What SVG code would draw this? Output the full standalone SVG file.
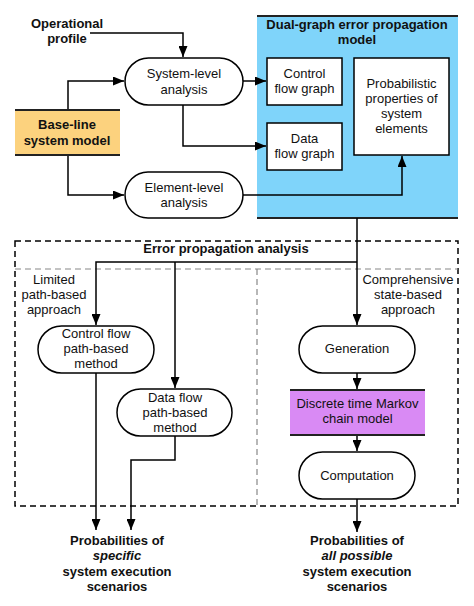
<svg xmlns="http://www.w3.org/2000/svg" width="474" height="606" viewBox="0 0 474 606">
<defs>
<marker id="ah" viewBox="0 0 11 9" refX="11" refY="4.5" markerWidth="11" markerHeight="9" markerUnits="userSpaceOnUse" orient="auto">
<path d="M0,0 L11,4.5 L0,9 z" fill="#000"/>
</marker>
<style>
text{font-family:"Liberation Sans",Arial,sans-serif;font-size:13px;fill:#111;text-anchor:middle}
.b{font-weight:bold}
.i{font-style:italic}
.pill{fill:#fff;stroke:#000;stroke-width:1.5}
.box{fill:#fff;stroke:#000;stroke-width:1.5}
.edge{fill:none;stroke:#000;stroke-width:1.5}
.dash{fill:none;stroke:#000;stroke-width:1.5;stroke-dasharray:6,4}
.dash2{fill:none;stroke:#888;stroke-width:1.2;stroke-dasharray:6,4}
.bar{stroke:#222;stroke-width:1.8}
</style>
</defs>
<rect width="474" height="606" fill="#fff"/>

<g id="dual-graph">
<rect x="257" y="16" width="201" height="202" fill="#7fd4fa"/>
<line class="bar" x1="257" y1="16" x2="458" y2="16"/>
<line class="bar" x1="257" y1="218" x2="458" y2="218"/>
<text class="b" x="357" y="29">Dual-graph error propagation</text>
<text class="b" x="357" y="44">model</text>
</g>

<g id="analysis-frame">
<rect class="dash" x="15" y="241" width="443" height="265"/>
<line class="dash2" x1="15" y1="269" x2="458" y2="269"/>
<line class="dash2" x1="257" y1="269" x2="257" y2="506"/>
<text class="b" x="226" y="253">Error propagation analysis</text>
<text x="54" y="284">Limited</text>
<text x="54" y="299">path-based</text>
<text x="54" y="314">approach</text>
<text x="408" y="284">Comprehensive</text>
<text x="408" y="299">state-based</text>
<text x="408" y="314">approach</text>
</g>

<g id="connectors">
<path class="edge" d="M90,33 H183 V57" marker-end="url(#ah)"/>
<path class="edge" d="M68,110 V81 H124" marker-end="url(#ah)"/>
<path class="edge" d="M68,155 V195 H124" marker-end="url(#ah)"/>
<path class="edge" d="M243,81 H266" marker-end="url(#ah)"/>
<path class="edge" d="M183,105 V146 H266" marker-end="url(#ah)"/>
<path class="edge" d="M243,195 H402 V156" marker-end="url(#ah)"/>
<path class="edge" d="M357,218 V325" marker-end="url(#ah)"/>
<path class="edge" d="M357,262 H96 V325" marker-end="url(#ah)"/>
<path class="edge" d="M175,262 V388" marker-end="url(#ah)"/>
<path class="edge" d="M357,373 V389" marker-end="url(#ah)"/>
<path class="edge" d="M357,435 V451" marker-end="url(#ah)"/>
<path class="edge" d="M357,499 V532" marker-end="url(#ah)"/>
<path class="edge" d="M96,373 V530" marker-end="url(#ah)"/>
<path class="edge" d="M175,436 V460 H131 V530" marker-end="url(#ah)"/>
</g>

<g id="operational-profile">
<text class="b" x="67" y="28">Operational</text>
<text class="b" x="67" y="43">profile</text>
</g>

<g id="baseline-model">
<rect x="15" y="110" width="105" height="45" fill="#fcd27e"/>
<line class="bar" x1="15" y1="110" x2="120" y2="110"/>
<line class="bar" x1="15" y1="155" x2="120" y2="155"/>
<text class="b" x="67" y="129">Base-line</text>
<text class="b" x="67" y="145">system model</text>
</g>

<g id="system-level">
<rect class="pill" x="125" y="58" width="118" height="47" rx="23.5"/>
<text x="184" y="78">System-level</text>
<text x="184" y="94">analysis</text>
</g>

<g id="element-level">
<rect class="pill" x="125" y="172" width="118" height="46" rx="23"/>
<text x="184" y="192">Element-level</text>
<text x="184" y="207">analysis</text>
</g>

<g id="control-flow-graph">
<rect class="box" x="267" y="58" width="75" height="47"/>
<text x="304.5" y="78">Control</text>
<text x="304.5" y="93">flow graph</text>
</g>

<g id="data-flow-graph">
<rect class="box" x="267" y="123" width="75" height="47"/>
<text x="304.5" y="143">Data</text>
<text x="304.5" y="158">flow graph</text>
</g>

<g id="probabilistic-properties">
<rect class="box" x="354" y="58" width="95" height="97"/>
<text x="401.5" y="88">Probabilistic</text>
<text x="401.5" y="103">properties of</text>
<text x="401.5" y="118">system</text>
<text x="401.5" y="133">elements</text>
</g>

<g id="control-flow-method">
<rect class="pill" x="38" y="326" width="116" height="47" rx="23.5"/>
<text x="96" y="338">Control flow</text>
<text x="96" y="353">path-based</text>
<text x="96" y="368">method</text>
</g>

<g id="data-flow-method">
<rect class="pill" x="117" y="389" width="115" height="47" rx="23.5"/>
<text x="175" y="402">Data flow</text>
<text x="175" y="417">path-based</text>
<text x="175" y="432">method</text>
</g>

<g id="generation">
<rect class="pill" x="299" y="326" width="116" height="47" rx="23.5"/>
<text x="357" y="353">Generation</text>
</g>

<g id="markov-chain">
<rect x="290" y="390" width="135" height="45" fill="#d98af4"/>
<line class="bar" x1="290" y1="390" x2="425" y2="390"/>
<line class="bar" x1="290" y1="435" x2="425" y2="435"/>
<text x="357.5" y="408">Discrete time Markov</text>
<text x="357.5" y="423">chain model</text>
</g>

<g id="computation">
<rect class="pill" x="299" y="452" width="116" height="47" rx="23.5"/>
<text x="357" y="480">Computation</text>
</g>

<g id="specific-result">
<text class="b" x="117" y="545">Probabilities of</text>
<text class="b i" x="117" y="560">specific</text>
<text class="b" x="117" y="576">system execution</text>
<text class="b" x="117" y="591">scenarios</text>
</g>

<g id="all-possible-result">
<text class="b" x="357" y="545">Probabilities of</text>
<text class="b i" x="357" y="560">all possible</text>
<text class="b" x="357" y="576">system execution</text>
<text class="b" x="357" y="591">scenarios</text>
</g>
</svg>
